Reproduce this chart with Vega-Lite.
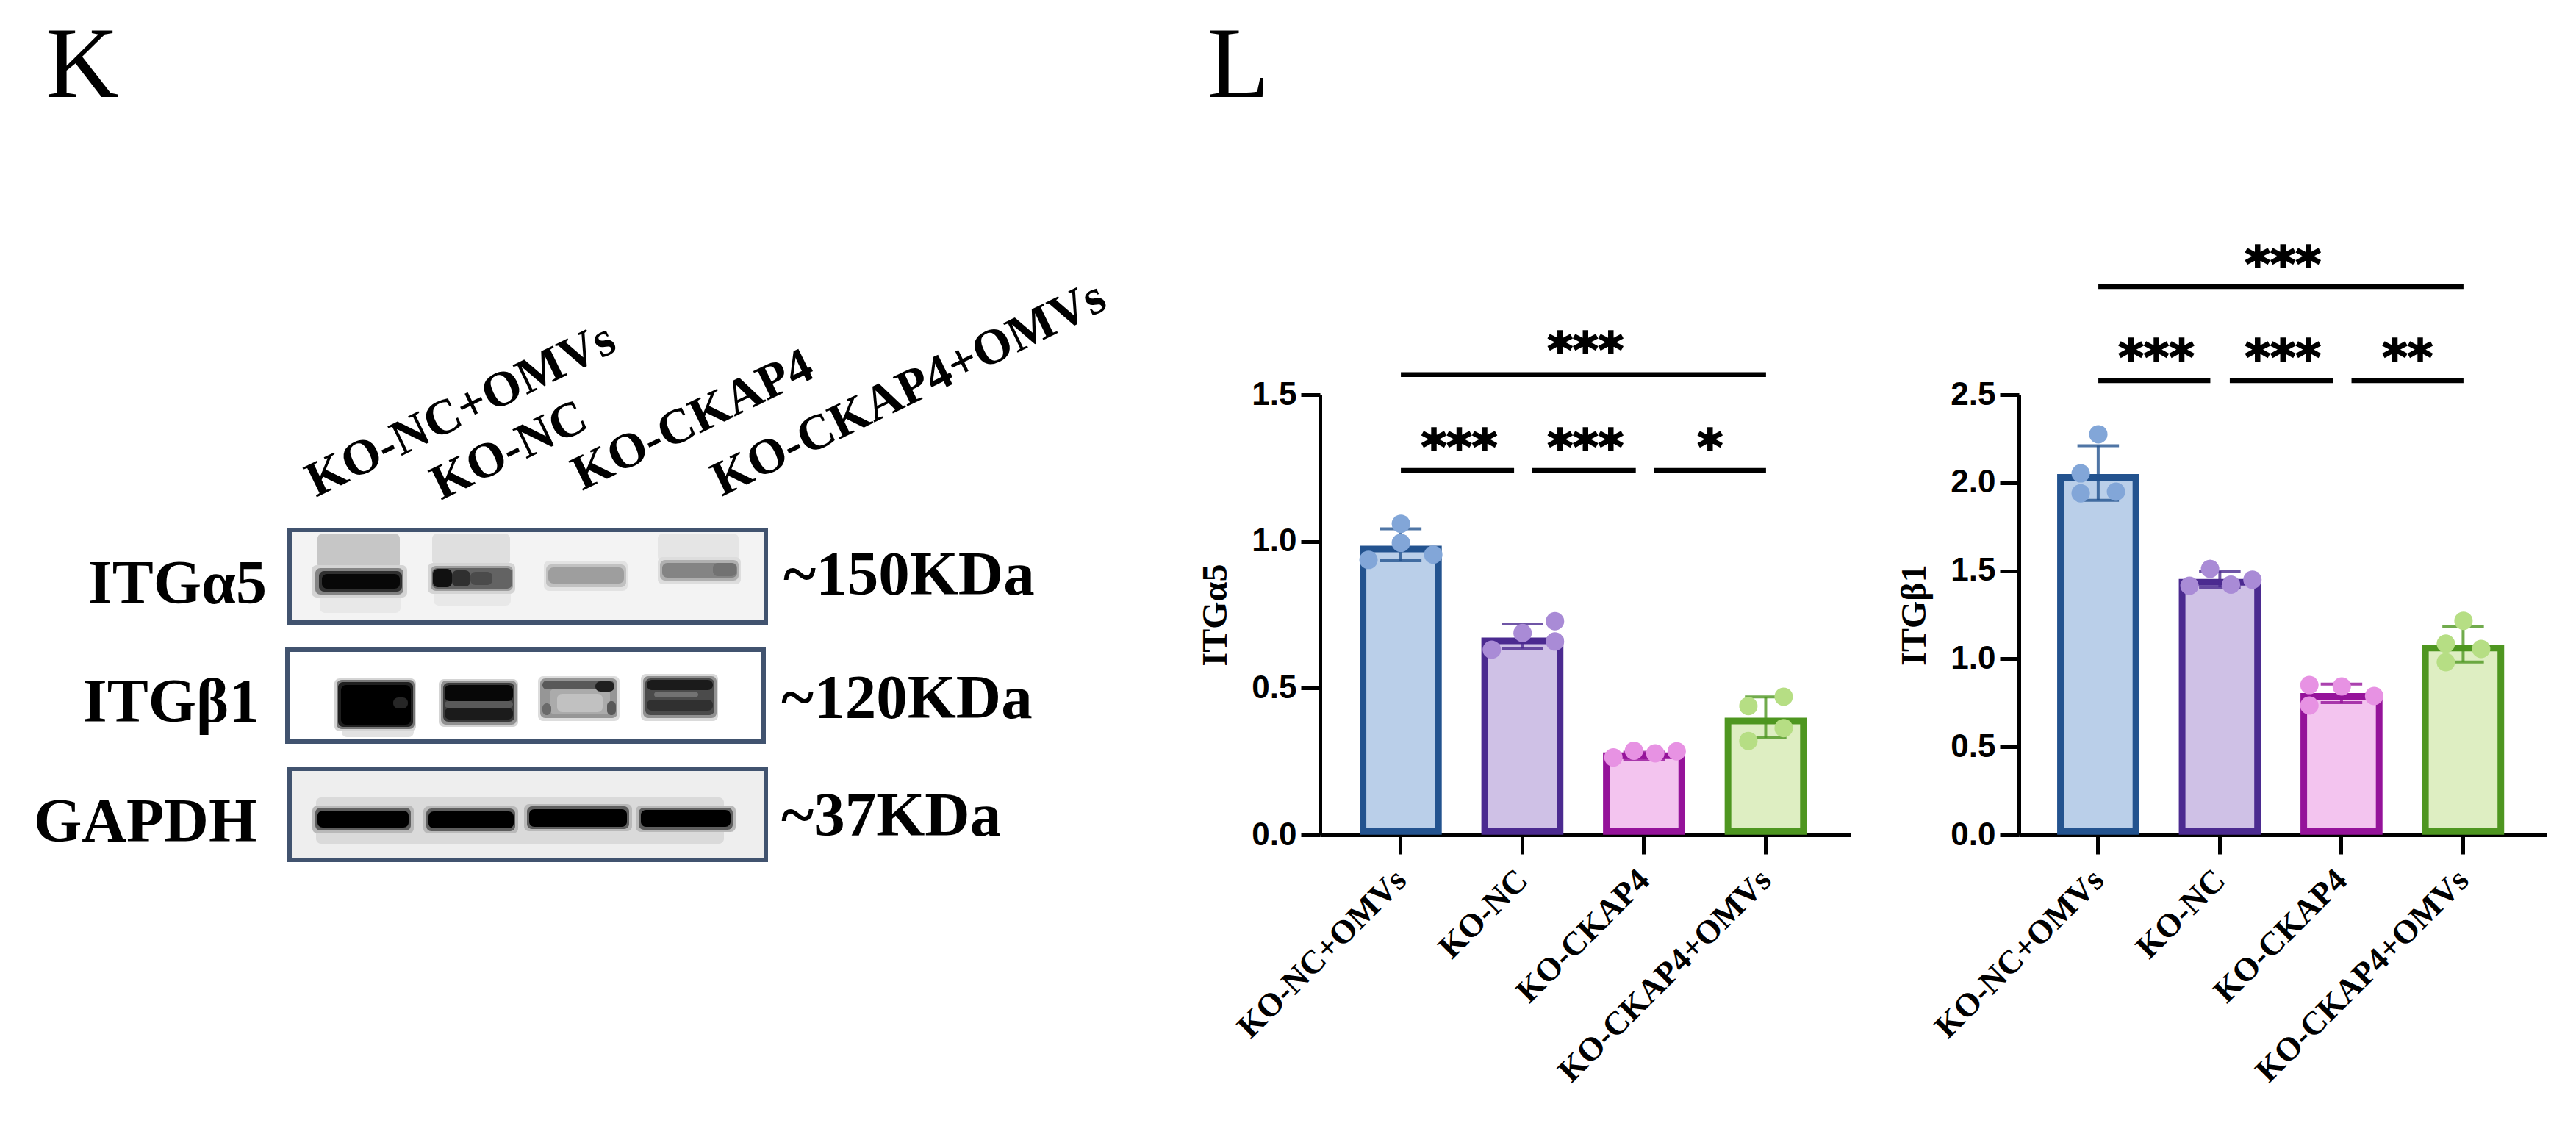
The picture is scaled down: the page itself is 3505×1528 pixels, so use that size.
{
  "$schema": "https://vega.github.io/schema/vega-lite/v6.json",
  "background": "white",
  "padding": {"left": 0, "top": 22, "right": 0, "bottom": 0},
  "bounds": "flush",
  "spacing": 229,
  "config": {
    "view": {"stroke": null},
    "axis": {
      "grid": false, "domainColor": "black", "domainWidth": 5, "tickColor": "black", "tickWidth": 5, "tickSize": 26,
      "zindex": 1, "labelColor": "black", "titleColor": "black"
    },
    "axisX": {"labelFont": "Liberation Serif", "labelFontWeight": "bold", "labelFontSize": 45, "labelAngle": -45, "labelAlign": "right", "labelBaseline": "middle", "labelPadding": 28, "labelOverlap": false, "labelBound": false, "labelLimit": 1000},
    "axisY": {"labelFont": "Liberation Sans", "labelFontWeight": "bold", "labelFontSize": 44, "labelPadding": 6, "titleFont": "Liberation Serif", "titleFontWeight": "bold", "titleFontSize": 48, "titlePadding": 24}
  },
  "datasets": {
    "boxes": [
      {"blot": "ITGa5", "x0": 39.4, "x1": 104.2, "y0": 72.2, "y1": 84.8, "d": 0.04},
      {"blot": "ITGb1", "x0": 39.1, "x1": 103.9, "y0": 88.5, "y1": 101.0, "d": 0.0},
      {"blot": "GAPDH", "x0": 39.4, "x1": 104.2, "y0": 104.7, "y1": 117.1, "d": 0.06}
    ],
    "shades": [
      {"x0": 43.2, "x1": 54.4, "y0": 72.7, "y1": 77.5, "d": 0.2},
      {"x0": 58.8, "x1": 69.4, "y0": 72.7, "y1": 77.0, "d": 0.11},
      {"x0": 74.5, "x1": 85.0, "y0": 72.7, "y1": 77.0, "d": 0.04},
      {"x0": 89.5, "x1": 100.5, "y0": 72.7, "y1": 76.5, "d": 0.09},
      {"x0": 43.5, "x1": 54.5, "y0": 80.0, "y1": 83.5, "d": 0.08},
      {"x0": 42.4, "x1": 55.4, "y0": 77.0, "y1": 81.4, "d": 0.15},
      {"x0": 42.9, "x1": 54.9, "y0": 77.4, "y1": 81.0, "d": 0.45},
      {"x0": 43.4, "x1": 54.7, "y0": 77.8, "y1": 80.6, "d": 0.8},
      {"x0": 43.8, "x1": 54.4, "y0": 78.2, "y1": 80.2, "d": 0.98},
      {"x0": 59.0, "x1": 69.5, "y0": 80.0, "y1": 82.5, "d": 0.08},
      {"x0": 58.2, "x1": 70.1, "y0": 76.7, "y1": 80.9, "d": 0.15},
      {"x0": 58.6, "x1": 69.8, "y0": 77.1, "y1": 80.5, "d": 0.35},
      {"x0": 58.8, "x1": 69.7, "y0": 77.4, "y1": 80.2, "d": 0.58},
      {"x0": 58.9, "x1": 61.5, "y0": 77.5, "y1": 80.0, "d": 0.95},
      {"x0": 61.5, "x1": 64.0, "y0": 77.7, "y1": 79.9, "d": 0.8},
      {"x0": 64.0, "x1": 67.0, "y0": 77.9, "y1": 79.7, "d": 0.68},
      {"x0": 74.0, "x1": 85.4, "y0": 76.4, "y1": 80.5, "d": 0.1},
      {"x0": 74.3, "x1": 85.2, "y0": 76.9, "y1": 80.0, "d": 0.22},
      {"x0": 74.6, "x1": 84.9, "y0": 77.3, "y1": 79.5, "d": 0.35},
      {"x0": 89.5, "x1": 100.8, "y0": 75.9, "y1": 79.6, "d": 0.12},
      {"x0": 89.8, "x1": 100.5, "y0": 76.3, "y1": 79.1, "d": 0.28},
      {"x0": 90.1, "x1": 100.3, "y0": 76.7, "y1": 78.7, "d": 0.45},
      {"x0": 97.0, "x1": 100.2, "y0": 76.7, "y1": 78.5, "d": 0.52},
      {"x0": 46.5, "x1": 56.3, "y0": 99.0, "y1": 100.4, "d": 0.1},
      {"x0": 45.5, "x1": 56.6, "y0": 92.4, "y1": 99.6, "d": 0.15},
      {"x0": 45.8, "x1": 56.4, "y0": 92.6, "y1": 99.3, "d": 0.5},
      {"x0": 46.0, "x1": 56.2, "y0": 92.9, "y1": 99.0, "d": 0.88},
      {"x0": 46.4, "x1": 55.9, "y0": 93.3, "y1": 98.7, "d": 1.0},
      {"x0": 53.5, "x1": 55.5, "y0": 95.0, "y1": 96.5, "d": 0.85},
      {"x0": 59.7, "x1": 70.5, "y0": 92.5, "y1": 99.0, "d": 0.15},
      {"x0": 60.0, "x1": 70.3, "y0": 92.7, "y1": 98.7, "d": 0.4},
      {"x0": 60.3, "x1": 70.0, "y0": 93.0, "y1": 98.3, "d": 0.75},
      {"x0": 60.5, "x1": 69.8, "y0": 93.3, "y1": 95.5, "d": 0.98},
      {"x0": 60.5, "x1": 69.8, "y0": 95.5, "y1": 96.4, "d": 0.62},
      {"x0": 60.5, "x1": 69.8, "y0": 96.4, "y1": 98.0, "d": 0.9},
      {"x0": 73.2, "x1": 84.3, "y0": 92.1, "y1": 98.2, "d": 0.12},
      {"x0": 73.5, "x1": 84.0, "y0": 92.4, "y1": 97.8, "d": 0.38},
      {"x0": 74.8, "x1": 83.0, "y0": 93.8, "y1": 97.3, "d": 0.3},
      {"x0": 75.8, "x1": 82.0, "y0": 94.5, "y1": 97.0, "d": 0.22},
      {"x0": 73.8, "x1": 83.6, "y0": 92.7, "y1": 93.9, "d": 0.62},
      {"x0": 81.0, "x1": 83.6, "y0": 92.8, "y1": 94.2, "d": 0.88},
      {"x0": 73.8, "x1": 75.0, "y0": 95.8, "y1": 97.4, "d": 0.55},
      {"x0": 82.6, "x1": 83.8, "y0": 95.5, "y1": 97.4, "d": 0.62},
      {"x0": 87.2, "x1": 97.7, "y0": 91.8, "y1": 98.2, "d": 0.13},
      {"x0": 87.5, "x1": 97.5, "y0": 92.1, "y1": 97.8, "d": 0.4},
      {"x0": 87.8, "x1": 97.2, "y0": 92.4, "y1": 97.4, "d": 0.68},
      {"x0": 88.0, "x1": 97.0, "y0": 92.6, "y1": 94.0, "d": 0.9},
      {"x0": 89.0, "x1": 95.0, "y0": 94.2, "y1": 95.0, "d": 0.52},
      {"x0": 88.0, "x1": 97.0, "y0": 95.3, "y1": 96.8, "d": 0.8},
      {"x0": 42.0, "x1": 99.5, "y0": 107.6, "y1": 115.8, "d": 0.06},
      {"x0": 43.0, "x1": 98.5, "y0": 108.6, "y1": 114.9, "d": 0.13},
      {"x0": 42.5, "x1": 56.3, "y0": 109.7, "y1": 113.5, "d": 0.25},
      {"x0": 42.9, "x1": 55.9, "y0": 110.0, "y1": 113.1, "d": 0.6},
      {"x0": 43.2, "x1": 55.6, "y0": 110.4, "y1": 112.7, "d": 1.0},
      {"x0": 57.6, "x1": 70.5, "y0": 109.8, "y1": 113.5, "d": 0.25},
      {"x0": 58.0, "x1": 70.1, "y0": 110.1, "y1": 113.2, "d": 0.6},
      {"x0": 58.3, "x1": 69.9, "y0": 110.5, "y1": 112.8, "d": 1.0},
      {"x0": 71.3, "x1": 86.0, "y0": 109.5, "y1": 113.2, "d": 0.25},
      {"x0": 71.7, "x1": 85.6, "y0": 109.8, "y1": 112.9, "d": 0.6},
      {"x0": 72.0, "x1": 85.3, "y0": 110.2, "y1": 112.6, "d": 1.0},
      {"x0": 86.5, "x1": 100.1, "y0": 109.7, "y1": 113.3, "d": 0.25},
      {"x0": 86.9, "x1": 99.7, "y0": 110.0, "y1": 113.0, "d": 0.6},
      {"x0": 87.2, "x1": 99.4, "y0": 110.3, "y1": 112.6, "d": 1.0}
    ],
    "lanes": [
      {"label": "KO-NC+OMVs", "x": 43.0, "y": 67.8},
      {"label": "KO-NC", "x": 60.0, "y": 68.2},
      {"label": "KO-CKAP4", "x": 79.2, "y": 66.9},
      {"label": "KO-CKAP4+OMVs", "x": 98.2, "y": 67.7}
    ],
    "proteins": [
      {"label": "ITGα5", "x": 12.0, "y": 82.2},
      {"label": "ITGβ1", "x": 11.3, "y": 98.3},
      {"label": "GAPDH", "x": 4.6, "y": 114.6}
    ],
    "weights": [
      {"label": "~150KDa", "x": 106.6, "y": 81.0},
      {"label": "~120KDa", "x": 106.3, "y": 97.8},
      {"label": "~37KDa", "x": 106.3, "y": 113.8}
    ],
    "letters": [
      {"label": "K", "x": 6.2, "y": 13.3},
      {"label": "L", "x": 164.3, "y": 13.3}
    ],
    "a5_bars": [
      {"group": "KO-NC+OMVs", "mean": 0.974, "low": 0.934, "high": 1.043},
      {"group": "KO-NC", "mean": 0.661, "low": 0.635, "high": 0.719},
      {"group": "KO-CKAP4", "mean": 0.27, "low": 0.258, "high": 0.282},
      {"group": "KO-CKAP4+OMVs", "mean": 0.388, "low": 0.331, "high": 0.47}
    ],
    "a5_points": [
      {"group": "KO-NC+OMVs", "pos": 1, "value": 1.06},
      {"group": "KO-NC+OMVs", "pos": 1, "value": 0.995},
      {"group": "KO-NC+OMVs", "pos": 0.734, "value": 0.937},
      {"group": "KO-NC+OMVs", "pos": 1.266, "value": 0.955},
      {"group": "KO-NC", "pos": 2.266, "value": 0.728},
      {"group": "KO-NC", "pos": 2, "value": 0.688},
      {"group": "KO-NC", "pos": 2.266, "value": 0.659},
      {"group": "KO-NC", "pos": 1.747, "value": 0.631},
      {"group": "KO-CKAP4", "pos": 2.746, "value": 0.264},
      {"group": "KO-CKAP4", "pos": 2.915, "value": 0.287},
      {"group": "KO-CKAP4", "pos": 3.09, "value": 0.278},
      {"group": "KO-CKAP4", "pos": 3.266, "value": 0.285},
      {"group": "KO-CKAP4+OMVs", "pos": 4.145, "value": 0.471},
      {"group": "KO-CKAP4+OMVs", "pos": 3.855, "value": 0.439},
      {"group": "KO-CKAP4+OMVs", "pos": 4.145, "value": 0.364},
      {"group": "KO-CKAP4+OMVs", "pos": 3.855, "value": 0.32}
    ],
    "a5_sig": [
      {"from": 1, "to": 4, "mid": 2.517, "level": 1.568, "starY": 1.68, "stars": "***"},
      {"from": 1, "to": 1.93, "mid": 1.48, "level": 1.242, "starY": 1.35, "stars": "***"},
      {"from": 2.08, "to": 2.93, "mid": 2.517, "level": 1.242, "starY": 1.35, "stars": "***"},
      {"from": 3.08, "to": 4, "mid": 3.54, "level": 1.242, "starY": 1.35, "stars": "*"}
    ],
    "b1_bars": [
      {"group": "KO-NC+OMVs", "mean": 2.03, "low": 1.9, "high": 2.21},
      {"group": "KO-NC", "mean": 1.435, "low": 1.406, "high": 1.498},
      {"group": "KO-CKAP4", "mean": 0.787, "low": 0.751, "high": 0.857},
      {"group": "KO-CKAP4+OMVs", "mean": 1.061, "low": 0.982, "high": 1.181}
    ],
    "b1_points": [
      {"group": "KO-NC+OMVs", "pos": 1, "value": 2.275},
      {"group": "KO-NC+OMVs", "pos": 0.855, "value": 2.053},
      {"group": "KO-NC+OMVs", "pos": 0.855, "value": 1.94},
      {"group": "KO-NC+OMVs", "pos": 1.145, "value": 1.949},
      {"group": "KO-NC", "pos": 1.918, "value": 1.511},
      {"group": "KO-NC", "pos": 1.749, "value": 1.415},
      {"group": "KO-NC", "pos": 2.09, "value": 1.421},
      {"group": "KO-NC", "pos": 2.266, "value": 1.449},
      {"group": "KO-CKAP4", "pos": 2.734, "value": 0.851},
      {"group": "KO-CKAP4", "pos": 3, "value": 0.843},
      {"group": "KO-CKAP4", "pos": 3.266, "value": 0.789},
      {"group": "KO-CKAP4", "pos": 2.734, "value": 0.735},
      {"group": "KO-CKAP4+OMVs", "pos": 4, "value": 1.216},
      {"group": "KO-CKAP4+OMVs", "pos": 3.855, "value": 1.086},
      {"group": "KO-CKAP4+OMVs", "pos": 4.145, "value": 1.056},
      {"group": "KO-CKAP4+OMVs", "pos": 3.855, "value": 0.981}
    ],
    "b1_sig": [
      {"from": 1, "to": 4, "mid": 2.517, "level": 3.114, "starY": 3.29, "stars": "***"},
      {"from": 1, "to": 1.92, "mid": 1.477, "level": 2.579, "starY": 2.76, "stars": "***"},
      {"from": 2.08, "to": 2.93, "mid": 2.517, "level": 2.579, "starY": 2.76, "stars": "***"},
      {"from": 3.08, "to": 4, "mid": 3.54, "level": 2.579, "starY": 2.76, "stars": "**"}
    ]
  },
  "hconcat": [
    {
      "width": 1567,
      "height": 599,
      "encoding": {
        "x": {"field": "x0", "type": "quantitative", "scale": {"domain": [0, 156.7], "nice": false, "zero": false}, "axis": null},
        "y": {"field": "y0", "type": "quantitative", "scale": {"domain": [53.8, 113.7], "nice": false, "zero": false, "reverse": true}, "axis": null}
      },
      "layer": [
        {
          "data": {"name": "boxes"},
          "mark": {"type": "rect", "clip": false},
          "encoding": {
            "x2": {"field": "x1"},
            "y2": {"field": "y1"},
            "fill": {"field": "d", "type": "quantitative", "scale": {"domain": [0, 1], "range": ["#ffffff", "#000000"]}, "legend": null}
          }
        },
        {
          "data": {"name": "shades"},
          "mark": {"type": "rect", "cornerRadius": 7},
          "encoding": {
            "x2": {"field": "x1"},
            "y2": {"field": "y1"},
            "fill": {"field": "d", "type": "quantitative", "scale": {"domain": [0, 1], "range": ["#ffffff", "#000000"]}, "legend": null}
          }
        },
        {
          "data": {"name": "boxes"},
          "mark": {"type": "rect", "fillOpacity": 0, "stroke": "#41536f", "strokeWidth": 6},
          "encoding": {
            "x2": {"field": "x1"},
            "y2": {"field": "y1"}
          }
        },
        {
          "data": {"name": "lanes"},
          "mark": {"type": "text", "font": "Liberation Serif", "fontWeight": "bold", "fontSize": 68, "angle": -26, "align": "left", "baseline": "alphabetic", "color": "black"},
          "encoding": {
            "x": {"field": "x", "type": "quantitative"},
            "y": {"field": "y", "type": "quantitative"},
            "text": {"field": "label"}
          }
        },
        {
          "data": {"name": "proteins"},
          "mark": {"type": "text", "font": "Liberation Serif", "fontWeight": "bold", "fontSize": 84, "align": "left", "baseline": "alphabetic", "color": "black"},
          "encoding": {
            "x": {"field": "x", "type": "quantitative"},
            "y": {"field": "y", "type": "quantitative"},
            "text": {"field": "label"}
          }
        },
        {
          "data": {"name": "weights"},
          "mark": {"type": "text", "font": "Liberation Serif", "fontWeight": "bold", "fontSize": 85, "align": "left", "baseline": "alphabetic", "color": "black"},
          "encoding": {
            "x": {"field": "x", "type": "quantitative"},
            "y": {"field": "y", "type": "quantitative"},
            "text": {"field": "label"}
          }
        },
        {
          "data": {"name": "letters"},
          "mark": {"type": "text", "font": "Liberation Serif", "fontSize": 138, "align": "left", "baseline": "alphabetic", "color": "black"},
          "encoding": {
            "x": {"field": "x", "type": "quantitative"},
            "y": {"field": "y", "type": "quantitative"},
            "text": {"field": "label"}
          }
        }
      ]
    },
    {
      "width": 722,
      "height": 599,
      "resolve": {"scale": {"x": "independent"}},
      "layer": [
        {
          "encoding": {
            "x": {"field": "group", "type": "nominal", "sort": null, "title": null, "scale": {"domain": ["KO-NC+OMVs", "KO-NC", "KO-CKAP4", "KO-CKAP4+OMVs"], "paddingInner": 0.38, "paddingOuter": 0.371, "align": 0.477}}
          },
          "layer": [
            {
              "data": {"name": "a5_bars"},
              "mark": {"type": "bar", "strokeWidth": 9, "strokeJoin": "miter"},
              "encoding": {
                "y": {"field": "mean", "type": "quantitative", "title": "ITGα5", "scale": {"domain": [0, 1.5], "nice": false}, "axis": {"values": [0, 0.5, 1, 1.5], "format": ".1f"}},
                "y2": {"datum": 0.012},
                "fill": {"field": "group", "scale": {"domain": ["KO-NC+OMVs", "KO-NC", "KO-CKAP4", "KO-CKAP4+OMVs"], "range": ["#bacfe9", "#cfc1e6", "#f3c4ef", "#deeec2"]}, "legend": null},
                "stroke": {"field": "group", "scale": {"domain": ["KO-NC+OMVs", "KO-NC", "KO-CKAP4", "KO-CKAP4+OMVs"], "range": ["#23538f", "#4b2a90", "#95139a", "#4e9620"]}, "legend": null}
              }
            },
            {
              "data": {"name": "a5_bars"},
              "mark": {"type": "rule", "strokeWidth": 4, "opacity": 0.8},
              "encoding": {
                "y": {"field": "low", "type": "quantitative", "scale": {"domain": [0, 1.5], "nice": false}},
                "y2": {"field": "high"},
                "stroke": {"field": "group", "legend": null}
              }
            },
            {
              "data": {"name": "a5_bars"},
              "mark": {"type": "tick", "size": 53, "thickness": 0.5, "filled": false, "strokeWidth": 3.5, "opacity": 0.8},
              "encoding": {
                "y": {"field": "low", "type": "quantitative", "scale": {"domain": [0, 1.5], "nice": false}},
                "stroke": {"field": "group", "legend": null}
              }
            },
            {
              "data": {"name": "a5_bars"},
              "mark": {"type": "tick", "size": 53, "thickness": 0.5, "filled": false, "strokeWidth": 3.5, "opacity": 0.8},
              "encoding": {
                "y": {"field": "high", "type": "quantitative", "scale": {"domain": [0, 1.5], "nice": false}},
                "stroke": {"field": "group", "legend": null}
              }
            }
          ]
        },
        {
          "encoding": {
            "x": {"field": "from", "type": "quantitative", "scale": {"domain": [0.3353, 4.695], "nice": false, "zero": false}, "axis": null}
          },
          "layer": [
            {
              "data": {"name": "a5_points"},
              "mark": {"type": "point", "filled": true, "opacity": 1, "size": 625},
              "encoding": {
                "x": {"field": "pos", "type": "quantitative", "scale": {"domain": [0.3353, 4.695], "nice": false, "zero": false}, "axis": null},
                "y": {"field": "value", "type": "quantitative", "scale": {"domain": [0, 1.5], "nice": false}},
                "color": {"field": "group", "scale": {"domain": ["KO-NC+OMVs", "KO-NC", "KO-CKAP4", "KO-CKAP4+OMVs"], "range": ["#82a6d8", "#a98bd6", "#e792e3", "#b6de84"]}, "legend": null}
              }
            },
            {
              "data": {"name": "a5_sig"},
              "mark": {"type": "rule", "color": "black", "strokeWidth": 6.5, "clip": false},
              "encoding": {
                "x2": {"field": "to"},
                "y": {"field": "level", "type": "quantitative", "scale": {"domain": [0, 1.5], "nice": false}}
              }
            },
            {
              "data": {"name": "a5_sig"},
              "mark": {"type": "text", "font": "DejaVu Sans", "fontWeight": "bold", "fontSize": 66, "dy": 34, "baseline": "alphabetic", "fill": "black", "stroke": "black", "strokeWidth": 2},
              "encoding": {
                "x": {"field": "mid", "type": "quantitative", "scale": {"domain": [0.3353, 4.695], "nice": false, "zero": false}, "axis": null},
                "y": {"field": "starY", "type": "quantitative", "scale": {"domain": [0, 1.5], "nice": false}},
                "text": {"field": "stars"}
              }
            }
          ]
        }
      ]
    },
    {
      "width": 718,
      "height": 599,
      "resolve": {"scale": {"x": "independent"}},
      "layer": [
        {
          "encoding": {
            "x": {"field": "group", "type": "nominal", "sort": null, "title": null, "scale": {"domain": ["KO-NC+OMVs", "KO-NC", "KO-CKAP4", "KO-CKAP4+OMVs"], "paddingInner": 0.38, "paddingOuter": 0.359, "align": 0.476}}
          },
          "layer": [
            {
              "data": {"name": "b1_bars"},
              "mark": {"type": "bar", "strokeWidth": 9, "strokeJoin": "miter"},
              "encoding": {
                "y": {"field": "mean", "type": "quantitative", "title": "ITGβ1", "scale": {"domain": [0, 2.5], "nice": false}, "axis": {"values": [0, 0.5, 1, 1.5, 2, 2.5], "format": ".1f"}},
                "y2": {"datum": 0.02},
                "fill": {"field": "group", "scale": {"domain": ["KO-NC+OMVs", "KO-NC", "KO-CKAP4", "KO-CKAP4+OMVs"], "range": ["#bacfe9", "#cfc1e6", "#f3c4ef", "#deeec2"]}, "legend": null},
                "stroke": {"field": "group", "scale": {"domain": ["KO-NC+OMVs", "KO-NC", "KO-CKAP4", "KO-CKAP4+OMVs"], "range": ["#23538f", "#4b2a90", "#95139a", "#4e9620"]}, "legend": null}
              }
            },
            {
              "data": {"name": "b1_bars"},
              "mark": {"type": "rule", "strokeWidth": 4, "opacity": 0.8},
              "encoding": {
                "y": {"field": "low", "type": "quantitative", "scale": {"domain": [0, 2.5], "nice": false}},
                "y2": {"field": "high"},
                "stroke": {"field": "group", "legend": null}
              }
            },
            {
              "data": {"name": "b1_bars"},
              "mark": {"type": "tick", "size": 53, "thickness": 0.5, "filled": false, "strokeWidth": 3.5, "opacity": 0.8},
              "encoding": {
                "y": {"field": "low", "type": "quantitative", "scale": {"domain": [0, 2.5], "nice": false}},
                "stroke": {"field": "group", "legend": null}
              }
            },
            {
              "data": {"name": "b1_bars"},
              "mark": {"type": "tick", "size": 53, "thickness": 0.5, "filled": false, "strokeWidth": 3.5, "opacity": 0.8},
              "encoding": {
                "y": {"field": "high", "type": "quantitative", "scale": {"domain": [0, 2.5], "nice": false}},
                "stroke": {"field": "group", "legend": null}
              }
            }
          ]
        },
        {
          "encoding": {
            "x": {"field": "from", "type": "quantitative", "scale": {"domain": [0.3474, 4.683], "nice": false, "zero": false}, "axis": null}
          },
          "layer": [
            {
              "data": {"name": "b1_points"},
              "mark": {"type": "point", "filled": true, "opacity": 1, "size": 625},
              "encoding": {
                "x": {"field": "pos", "type": "quantitative", "scale": {"domain": [0.3474, 4.683], "nice": false, "zero": false}, "axis": null},
                "y": {"field": "value", "type": "quantitative", "scale": {"domain": [0, 2.5], "nice": false}},
                "color": {"field": "group", "scale": {"domain": ["KO-NC+OMVs", "KO-NC", "KO-CKAP4", "KO-CKAP4+OMVs"], "range": ["#82a6d8", "#a98bd6", "#e792e3", "#b6de84"]}, "legend": null}
              }
            },
            {
              "data": {"name": "b1_sig"},
              "mark": {"type": "rule", "color": "black", "strokeWidth": 6.5, "clip": false},
              "encoding": {
                "x2": {"field": "to"},
                "y": {"field": "level", "type": "quantitative", "scale": {"domain": [0, 2.5], "nice": false}}
              }
            },
            {
              "data": {"name": "b1_sig"},
              "mark": {"type": "text", "font": "DejaVu Sans", "fontWeight": "bold", "fontSize": 66, "dy": 34, "baseline": "alphabetic", "fill": "black", "stroke": "black", "strokeWidth": 2},
              "encoding": {
                "x": {"field": "mid", "type": "quantitative", "scale": {"domain": [0.3474, 4.683], "nice": false, "zero": false}, "axis": null},
                "y": {"field": "starY", "type": "quantitative", "scale": {"domain": [0, 2.5], "nice": false}},
                "text": {"field": "stars"}
              }
            }
          ]
        }
      ]
    }
  ]
}
